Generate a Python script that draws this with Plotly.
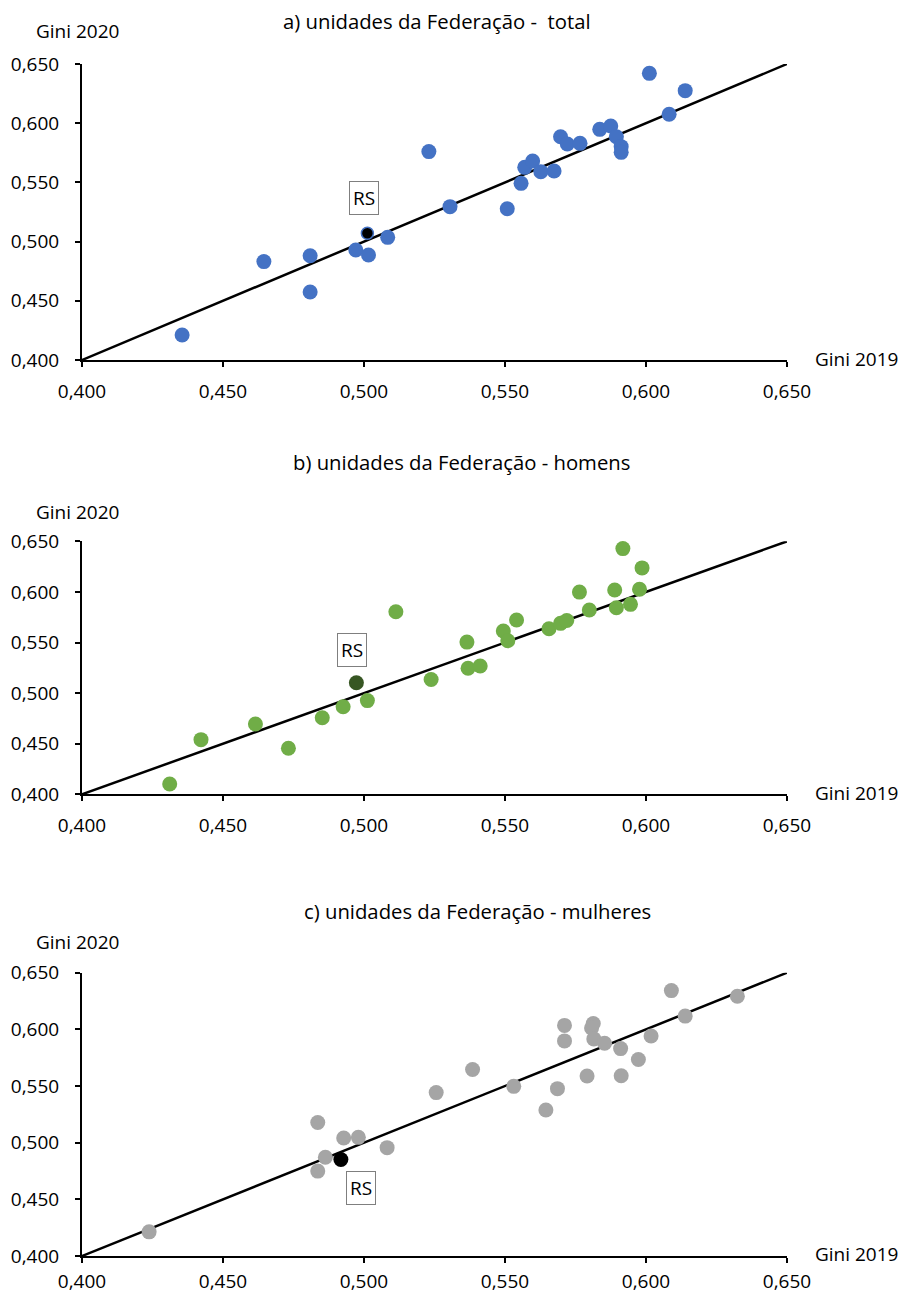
import plotly.graph_objects as go

# ---------------- data ----------------
# a) total
total_2019 = [0.4355, 0.4645, 0.4809, 0.4809, 0.4971, 0.5016, 0.5084, 0.5230, 0.5305,
              0.5508, 0.5557, 0.5570, 0.5598, 0.5627, 0.5674, 0.5697, 0.5721, 0.5766,
              0.5836, 0.5875, 0.5895, 0.5912, 0.5912, 0.6012, 0.6082, 0.6139]
total_2020 = [0.4211, 0.4831, 0.4881, 0.4574, 0.4929, 0.4887, 0.5036, 0.5760, 0.5295,
              0.5278, 0.5492, 0.5627, 0.5681, 0.5591, 0.5596, 0.5886, 0.5824, 0.5830,
              0.5948, 0.5976, 0.5886, 0.5802, 0.5754, 0.6421, 0.6075, 0.6275]
total_rs = (0.5012, 0.5070)

# b) homens
homens_2019 = [0.4311, 0.4422, 0.4615, 0.4732, 0.4852, 0.4926, 0.5012, 0.5113, 0.5238,
               0.5365, 0.5369, 0.5412, 0.5494, 0.5510, 0.5541, 0.5656, 0.5697, 0.5719,
               0.5764, 0.5799, 0.5889, 0.5895, 0.5945, 0.5918, 0.5977, 0.5986]
homens_2020 = [0.4102, 0.4540, 0.4695, 0.4455, 0.4757, 0.4865, 0.4926, 0.5804, 0.5135,
               0.5504, 0.5245, 0.5268, 0.5614, 0.5518, 0.5722, 0.5636, 0.5689, 0.5718,
               0.5998, 0.5821, 0.6019, 0.5844, 0.5877, 0.6428, 0.6026, 0.6237]
homens_rs = (0.4973, 0.5102)

# c) mulheres
mulheres_2019 = [0.4238, 0.4836, 0.4836, 0.4863, 0.4928, 0.4980, 0.5082, 0.5256, 0.5385,
                 0.5531, 0.5645, 0.5686, 0.5711, 0.5711, 0.5791, 0.5813, 0.5807, 0.5815,
                 0.5853, 0.5910, 0.5912, 0.5973, 0.6018, 0.6090, 0.6139, 0.6324]
mulheres_2020 = [0.4213, 0.5178, 0.4749, 0.4871, 0.5041, 0.5047, 0.4956, 0.5442, 0.5646,
                 0.5497, 0.5289, 0.5477, 0.6035, 0.5898, 0.5588, 0.6052, 0.6012, 0.5916,
                 0.5877, 0.5830, 0.5591, 0.5734, 0.5942, 0.6342, 0.6117, 0.6292]
mulheres_rs = (0.4918, 0.4851)

diag = [0.400, 0.650]
tick_vals = [0.400, 0.450, 0.500, 0.550, 0.600, 0.650]
titles = ["a) unidades da Federação -  total",
          "b) unidades da Federação - homens",
          "c) unidades da Federação - mulheres"]

# ---------------- layout helpers ----------------
W, H = 906, 1296
FONT = "Open Sans"
X0, X1 = 82, 787                      # pixel positions of 0,400 and 0,650
panels = [  # (top px of 0,650, bottom px of 0,400)
    (64, 360),
    (541.3, 794.3),
    (972.7, 1256),
]
x_standoff = [8, 8, 2]
title_pos = [(437, 21), (461, 462), (477, 911)]
gini20_y = [31, 512, 942]
gini19_y = [359, 793, 1254]
rs_box = [(364, 198), (351.5, 650), (361, 1188)]

def px(x):
    return x / W

def py(y):
    return 1 - y / H

fig = go.Figure()

series = [
    (total_2019, total_2020, total_rs, "#4472C4",
     dict(color="#000000", size=12, line=dict(color="#4472C4", width=1.5))),
    (homens_2019, homens_2020, homens_rs, "#70AD47",
     dict(color="#375623", size=15, line=dict(width=0))),
    (mulheres_2019, mulheres_2020, mulheres_rs, "#A5A5A5",
     dict(color="#000000", size=15, line=dict(width=0))),
]

annotations = []
for i, (xs, ys, rs, col, rsmk) in enumerate(series):
    n = i + 1
    xa = "x" if n == 1 else f"x{n}"
    ya = "y" if n == 1 else f"y{n}"
    fig.add_trace(go.Scatter(x=diag, y=diag, mode="lines",
                             line=dict(color="black", width=2.5),
                             xaxis=xa, yaxis=ya, showlegend=False,
                             hoverinfo="skip"))
    fig.add_trace(go.Scatter(x=xs, y=ys, mode="markers",
                             marker=dict(color=col, size=15, line=dict(width=0)),
                             xaxis=xa, yaxis=ya, showlegend=False,
                             cliponaxis=False))
    fig.add_trace(go.Scatter(x=[rs[0]], y=[rs[1]], mode="markers",
                             marker=rsmk, xaxis=xa, yaxis=ya,
                             showlegend=False, cliponaxis=False))

    top, bot = panels[i]
    axis_common = dict(
        range=[0.400, 0.650], tickvals=tick_vals, tickformat=".3f",
        showgrid=False, zeroline=False, showline=True, linecolor="black",
        linewidth=2, ticks="outside", ticklen=5, tickwidth=1.5,
        tickcolor="black", tickfont=dict(family=FONT, size=19, color="black"),
        fixedrange=True, automargin=False,
    )
    fig.update_layout({
        ("xaxis" if n == 1 else f"xaxis{n}"): dict(
            axis_common, domain=[px(X0), px(X1)],
            anchor=ya, ticklabelstandoff=x_standoff[i]),
        ("yaxis" if n == 1 else f"yaxis{n}"): dict(
            axis_common, domain=[py(bot), py(top)],
            anchor=xa, ticklabelstandoff=12),
    })

    tx, ty = title_pos[i]
    annotations.append(dict(text=titles[i], x=px(tx), y=py(ty), xref="paper",
                            yref="paper", xanchor="center", yanchor="middle",
                            showarrow=False,
                            font=dict(family=FONT, size=20.3, color="black")))
    annotations.append(dict(text="Gini 2020", x=px(34), y=py(gini20_y[i]),
                            xref="paper", yref="paper", xanchor="left",
                            yanchor="middle", showarrow=False,
                            font=dict(family=FONT, size=19, color="black")))
    annotations.append(dict(text="Gini 2019", x=px(813), y=py(gini19_y[i]),
                            xref="paper", yref="paper", xanchor="left",
                            yanchor="middle", showarrow=False,
                            font=dict(family=FONT, size=19, color="black")))
    bx, by = rs_box[i]
    annotations.append(dict(text="RS", x=px(bx), y=py(by), xref="paper",
                            yref="paper", xanchor="center", yanchor="middle",
                            showarrow=False, bordercolor="#7F7F7F",
                            borderwidth=1, borderpad=3, bgcolor="white",
                            font=dict(family=FONT, size=19, color="black")))

fig.update_layout(
    width=W, height=H, autosize=False,
    margin=dict(l=0, r=0, t=0, b=0, pad=0, autoexpand=False),
    paper_bgcolor="white", plot_bgcolor="white",
    separators=",.",
    annotations=annotations,
    font=dict(family=FONT, color="black"),
)

fig.write_html("out.html", post_script="document.body.style.margin='0';",
               config={"displayModeBar": False})
